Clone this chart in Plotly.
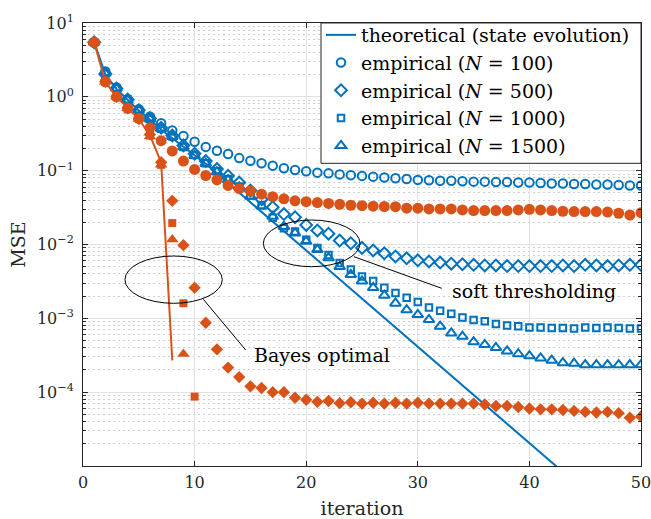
import plotly.graph_objects as go

# ---------------- data ----------------
iterations = list(range(1, 51))

# state-evolution (theoretical) curves
se_soft = [5.5, 2.0, 1.28, 0.9, 0.65, 0.49, 0.36, 0.275, 0.21, 0.165,
           0.124, 0.0919, 0.068, 0.0504, 0.0373, 0.0277, 0.0205, 0.0152, 0.0112, 0.00832,
           0.00616, 0.00456, 0.00338, 0.0025, 0.00185, 0.00137, 0.00102, 0.000753, 0.000558, 0.000413,
           0.000306, 0.000226, 0.000168, 0.000124, 9.2e-5, 6.82e-5, 5.05e-5, 3.74e-5, 2.77e-5, 2.05e-5,
           1.52e-5, 1.125e-5, 8.3e-6]
se_bayes = [5.5, 1.6, 1.0, 0.7, 0.5, 0.3, 0.13, 2.7e-4]

# empirical, soft thresholding
soft_n100 = [5.4, 2.2, 1.34, 0.93, 0.68, 0.54, 0.44, 0.35, 0.295, 0.247,
             0.21, 0.186, 0.168, 0.148, 0.136, 0.126, 0.117, 0.108, 0.102, 0.098,
             0.094, 0.092, 0.089, 0.087, 0.085, 0.083, 0.081, 0.079, 0.077, 0.075,
             0.074, 0.073, 0.073, 0.072, 0.071, 0.071, 0.070, 0.070, 0.069, 0.069,
             0.068, 0.067, 0.067, 0.066, 0.066, 0.065, 0.065, 0.064, 0.063, 0.063]
soft_n500 = [5.5, 2.05, 1.3, 0.92, 0.66, 0.51, 0.38, 0.30, 0.22, 0.17,
             0.135, 0.105, 0.085, 0.069, 0.054, 0.041, 0.032, 0.0258, 0.0234, 0.0184,
             0.0155, 0.014, 0.0113, 0.0104, 0.009, 0.0083, 0.0076, 0.0069, 0.0065, 0.0061,
             0.0059, 0.0057, 0.0055, 0.0054, 0.0053, 0.0052, 0.0052, 0.0051, 0.0051, 0.0051,
             0.0051, 0.0051, 0.0052, 0.0051, 0.0053, 0.0052, 0.0051, 0.0052, 0.0053, 0.0053]
soft_n1000 = [5.5, 2.05, 1.3, 0.92, 0.66, 0.5, 0.37, 0.29, 0.21, 0.163,
              0.126, 0.098, 0.077, 0.061, 0.046, 0.034, 0.023, 0.0166, 0.015, 0.0116,
              0.009, 0.0072, 0.0056, 0.0046, 0.0037, 0.0032, 0.0026, 0.0022, 0.0019, 0.00167,
              0.0014, 0.00127, 0.00115, 0.00103, 0.00095, 0.00091, 0.00084, 0.0008, 0.00078, 0.00075,
              0.00075, 0.00074, 0.00074, 0.00073, 0.00075, 0.00074, 0.00075, 0.00074, 0.00073, 0.00073]
soft_n1500 = [5.5, 2.1, 1.3, 0.9, 0.66, 0.5, 0.37, 0.29, 0.21, 0.16,
              0.125, 0.096, 0.075, 0.06, 0.045, 0.033, 0.024, 0.0175, 0.0143, 0.011,
              0.0085, 0.0066, 0.005, 0.0039, 0.0032, 0.0026, 0.00204, 0.0016, 0.0013, 0.00112,
              0.00096, 0.00078, 0.00063, 0.00057, 0.00048, 0.00044, 0.0004, 0.00036, 0.00033, 0.00031,
              0.00029, 0.00027, 0.00025, 0.000245, 0.000235, 0.000235, 0.000235, 0.000235, 0.000235, 0.000235]

# empirical, Bayes optimal
bayes_n100 = [5.5, 1.6, 1.0, 0.70, 0.51, 0.38, 0.255, 0.185, 0.135, 0.104,
              0.086, 0.075, 0.063, 0.057, 0.053, 0.048, 0.0445, 0.0415, 0.039, 0.038,
              0.037, 0.036, 0.035, 0.034, 0.0335, 0.033, 0.0327, 0.0325, 0.031, 0.031,
              0.0303, 0.0303, 0.0303, 0.0294, 0.0288, 0.0288, 0.0288, 0.0288, 0.0294, 0.030,
              0.0294, 0.0288, 0.0282, 0.0279, 0.0279, 0.0279, 0.0275, 0.0265, 0.0251, 0.027]
bayes_n500 = [5.5, 1.6, 1.0, 0.7, 0.5, 0.31, 0.13, 0.039, 0.0098, 0.0026,
              0.00087, 0.00038, 0.000215, 0.00016, 0.00012, 0.000114, 0.0001, 0.0001, 8.4e-5, 7.9e-5,
              7.4e-5, 7.6e-5, 7.1e-5, 7.3e-5, 7.0e-5, 7.2e-5, 7.0e-5, 7.2e-5, 7.0e-5, 7.2e-5,
              7.0e-5, 7.0e-5, 7.0e-5, 7.0e-5, 7.0e-5, 6.8e-5, 6.5e-5, 6.5e-5, 6.3e-5, 6.0e-5,
              5.85e-5, 5.85e-5, 5.73e-5, 5.57e-5, 5.4e-5, 5.3e-5, 5.4e-5, 5.2e-5, 4.5e-5, 4.7e-5]
bayes_n1000 = [5.5, 1.6, 1.0, 0.7, 0.5, 0.3, 0.12, 0.0195, 0.0016, 8.7e-5]
bayes_n1500 = [5.5, 1.6, 1.0, 0.7, 0.5, 0.29, 0.12, 0.0117, 3.3e-4]

legend_labels = ["theoretical (state evolution)",
                 "empirical (<i>N</i> = 100)",
                 "empirical (<i>N</i> = 500)",
                 "empirical (<i>N</i> = 1000)",
                 "empirical (<i>N</i> = 1500)"]
x_ticks = [0, 10, 20, 30, 40, 50]
y_ticks = [1e-4, 1e-3, 1e-2, 1e-1, 1e0, 1e1]
y_ticktext = ["10<sup>\u22124</sup>", "10<sup>\u22123</sup>", "10<sup>\u22122</sup>",
              "10<sup>\u22121</sup>", "10<sup>0</sup>", "10<sup>1</sup>"]

# ---------------- style ----------------
BLUE = "#0072BD"
ORANGE = "#D95319"
FONT = "DejaVu Serif"
AX = "#262626"

fig = go.Figure()

# soft thresholding (blue)
fig.add_trace(go.Scatter(x=iterations[:len(se_soft)], y=se_soft, mode="lines",
                         line=dict(color=BLUE, width=2), name=legend_labels[0]))
fig.add_trace(go.Scatter(x=iterations, y=soft_n100, mode="markers", name=legend_labels[1],
                         marker=dict(symbol="circle-open", size=8.5, color=BLUE, line=dict(width=2, color=BLUE))))
fig.add_trace(go.Scatter(x=iterations, y=soft_n500, mode="markers", name=legend_labels[2],
                         marker=dict(symbol="diamond-open", size=9, color=BLUE, line=dict(width=2, color=BLUE))))
fig.add_trace(go.Scatter(x=iterations, y=soft_n1000, mode="markers", name=legend_labels[3],
                         marker=dict(symbol="square-open", size=6.5, color=BLUE, line=dict(width=2, color=BLUE))))
fig.add_trace(go.Scatter(x=iterations, y=soft_n1500, mode="markers", name=legend_labels[4],
                         marker=dict(symbol="triangle-up-open", size=9.5, color=BLUE, line=dict(width=2, color=BLUE))))

# Bayes optimal (orange)
fig.add_trace(go.Scatter(x=iterations[:len(se_bayes)], y=se_bayes, mode="lines",
                         line=dict(color=ORANGE, width=2), showlegend=False))
fig.add_trace(go.Scatter(x=iterations, y=bayes_n100, mode="markers", showlegend=False,
                         marker=dict(symbol="circle", size=11, color=ORANGE, line=dict(width=0))))
fig.add_trace(go.Scatter(x=iterations, y=bayes_n500, mode="markers", showlegend=False,
                         marker=dict(symbol="diamond", size=9.5, color=ORANGE, line=dict(width=0))))
fig.add_trace(go.Scatter(x=iterations[:len(bayes_n1000)], y=bayes_n1000, mode="markers", showlegend=False,
                         marker=dict(symbol="square", size=8, color=ORANGE, line=dict(width=0))))
fig.add_trace(go.Scatter(x=iterations[:len(bayes_n1500)], y=bayes_n1500, mode="markers", showlegend=False,
                         marker=dict(symbol="triangle-up", size=11, color=ORANGE, line=dict(width=0))))

# ---------------- annotations (ellipses, pointers, labels) ----------------
PLOT_L, PLOT_T, PLOT_W, PLOT_H = 83, 23, 558, 443

def ydom(py):
    # pixel row -> y-domain fraction of the plot area
    return (PLOT_T + PLOT_H - py) / PLOT_H

def xdom(px):
    return (px - PLOT_L) / PLOT_W

fig.add_shape(type="circle", xref="x", yref="y domain", x0=16.16, x1=24.82, y0=ydom(266.7), y1=ydom(220),
              line=dict(color="black", width=1))
fig.add_shape(type="circle", xref="x", yref="y domain", x0=3.76, x1=12.48, y0=ydom(303.3), y1=ydom(256),
              line=dict(color="black", width=1))
fig.add_shape(type="line", xref="x", yref="y domain", x0=24.28, x1=32.14, y0=ydom(256.7), y1=ydom(288.3),
              line=dict(color="black", width=1))
fig.add_shape(type="line", xref="x", yref="y domain", x0=10.78, x1=14.58, y0=ydom(299.3), y1=ydom(350),
              line=dict(color="black", width=1))
fig.add_annotation(text="soft thresholding", xref="x", yref="y domain", x=32.9, y=ydom(291),
                   xanchor="left", yanchor="middle", showarrow=False,
                   font=dict(family=FONT, size=19, color="black"))
fig.add_annotation(text="Bayes optimal", xref="x", yref="y domain", x=15.14, y=ydom(355),
                   xanchor="left", yanchor="middle", showarrow=False,
                   font=dict(family=FONT, size=19, color="black"))

# legend box (white, dark border), drawn as a shape so the box matches the reference
fig.add_shape(type="rect", xref="paper", yref="paper", x0=xdom(321), x1=1.0, y0=ydom(163.3), y1=1.0,
              fillcolor="white", line=dict(color=AX, width=1), layer="above")

# ---------------- layout ----------------
minor_vals = [m * 10.0 ** k for k in range(-5, 1) for m in range(2, 10)]

fig.update_layout(
    width=651, height=519,
    margin=dict(l=PLOT_L, r=651 - PLOT_L - PLOT_W, t=PLOT_T, b=519 - PLOT_T - PLOT_H, autoexpand=False),
    paper_bgcolor="white", plot_bgcolor="white",
    font=dict(family=FONT, size=16, color=AX),
    showlegend=True,
    legend=dict(x=xdom(321), y=ydom(16), xanchor="left", yanchor="top",
                bgcolor="rgba(0,0,0,0)", borderwidth=0,
                font=dict(family=FONT, size=19, color="black"),
                tracegroupgap=0),
    xaxis=dict(range=[0, 50], tickvals=x_ticks, ticks="inside", ticklen=5, tickcolor=AX,
               automargin=False, ticklabeloverflow="allow",
               showline=True, linecolor=AX, linewidth=1, mirror="ticks",
               showgrid=True, gridcolor="#e2e2e2", gridwidth=1, zeroline=False,
               tickfont=dict(family=FONT, size=16, color=AX), ticklabelstandoff=2,
               title=dict(text="iteration", font=dict(family=FONT, size=19, color=AX), standoff=20)),
    yaxis=dict(type="log", range=[-5, 1], tickvals=y_ticks, ticktext=y_ticktext,
               automargin=False, ticklabeloverflow="allow",
               ticks="inside", ticklen=5, tickcolor=AX,
               showline=True, linecolor=AX, linewidth=1, mirror="ticks",
               showgrid=True, gridcolor="#e2e2e2", gridwidth=1, zeroline=False,
               tickfont=dict(family=FONT, size=16, color=AX), ticklabelstandoff=5,
               minor=dict(tickvals=minor_vals, ticks="inside", ticklen=3, tickcolor=AX,
                          showgrid=True, gridcolor="#cfcfcf", gridwidth=1, griddash="2px,3px"),
               title=dict(text="MSE", font=dict(family=FONT, size=19, color=AX), standoff=6)),
)

fig.write_html("out.html")
